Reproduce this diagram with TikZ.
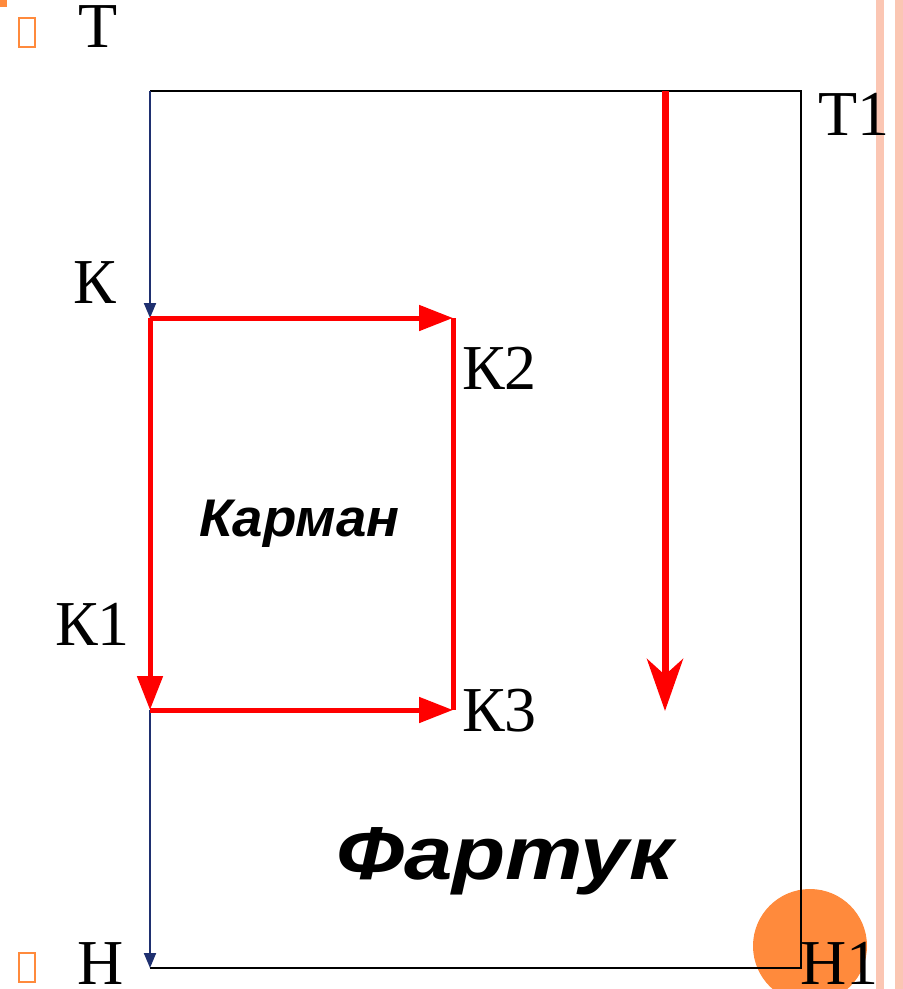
\documentclass[tikz,border=0pt]{standalone}
\usepackage{fontspec}
\setmainfont{Liberation Serif}
\newfontfamily\arialfont{Liberation Sans}
\usetikzlibrary{arrows.meta}
\definecolor{navyline}{HTML}{1F3070}
\definecolor{apricot}{HTML}{FF8A3C}
\definecolor{salmonbar}{HTML}{FBC6B3}

\begin{document}
\begin{tikzpicture}[x=1pt,y=-1pt,
  lbl/.style={anchor=base west,inner sep=0pt,font=\fontsize{64}{70}\selectfont},
  edge/.style={draw=black,line width=1.6pt},
  navy/.style={draw=navyline,line width=2pt,-{Triangle[length=15pt,width=12pt]}},
  seam/.style={draw=red,line width=5pt},
  seamarrow/.style={seam,-{Triangle[length=34pt,width=25pt]}},
  bullet/.style={draw=apricot,line width=2pt,minimum width=16pt,minimum height=29pt,inner sep=0pt}]
\useasboundingbox (0,0) rectangle (903,989);
% slide decoration
\fill[salmonbar] (876,0) rectangle (884,989);
\fill[salmonbar] (895,0) rectangle (903,989);
\fill[apricot] (0,0) rectangle (7,7);
\fill[apricot] (810,946) circle (57);
\node[bullet] (b1) at (26.5,32.5) {};
\node[bullet] (b2) at (26.5,967.5) {};
% corners
\coordinate (T) at (150,91);
\coordinate (T1) at (801,91);
\coordinate (H) at (150,968);
\coordinate (H1) at (801,968);
\coordinate (K) at (150,318);
\coordinate (K1) at (150,710);
\coordinate (K2) at (453,318);
\coordinate (K3) at (453,710);
\coordinate (top) at (665,91);
\coordinate (bot) at (665,711);
% apron outline
\draw[edge] (T) -- (T1) -- (H1) -- (H);
\draw[navy] (T) -- (K);
\draw[navy] (K1) -- (H);
% pocket
\draw[seamarrow] (K) -- (K1);
\draw[seamarrow] (K) -- (K2);
\draw[seamarrow] (K1) -- (K3);
\draw[seam] (K2) -- (K3);
\draw[seam,line width=7pt,-{Stealth[length=52pt,width=36pt,inset=16pt]}] (top) -- (bot);
% labels
\node[lbl] (lT) at (78,47) {Т};
\node[lbl] (lT1) at (818,135) {Т1};
\node[lbl] (lK) at (73,303) {К};
\node[lbl] (lK1) at (55,645) {К1};
\node[lbl] (lK2) at (462,389) {К2};
\node[lbl] (lK3) at (462,731) {К3};
\node[lbl] (lH) at (77,984) {Н};
\node[lbl] (lH1) at (800,984) {Н1};
\node[anchor=base west,inner sep=0pt,xscale=1.03,font=\arialfont\bfseries\itshape\fontsize{53}{56}\selectfont] (pocket) at (199,536) {Карман};
\node[anchor=base west,inner sep=0pt,xscale=1.16,font=\arialfont\bfseries\itshape\fontsize{75}{80}\selectfont] (apron) at (336,879) {Фартук};
\end{tikzpicture}
\end{document}
